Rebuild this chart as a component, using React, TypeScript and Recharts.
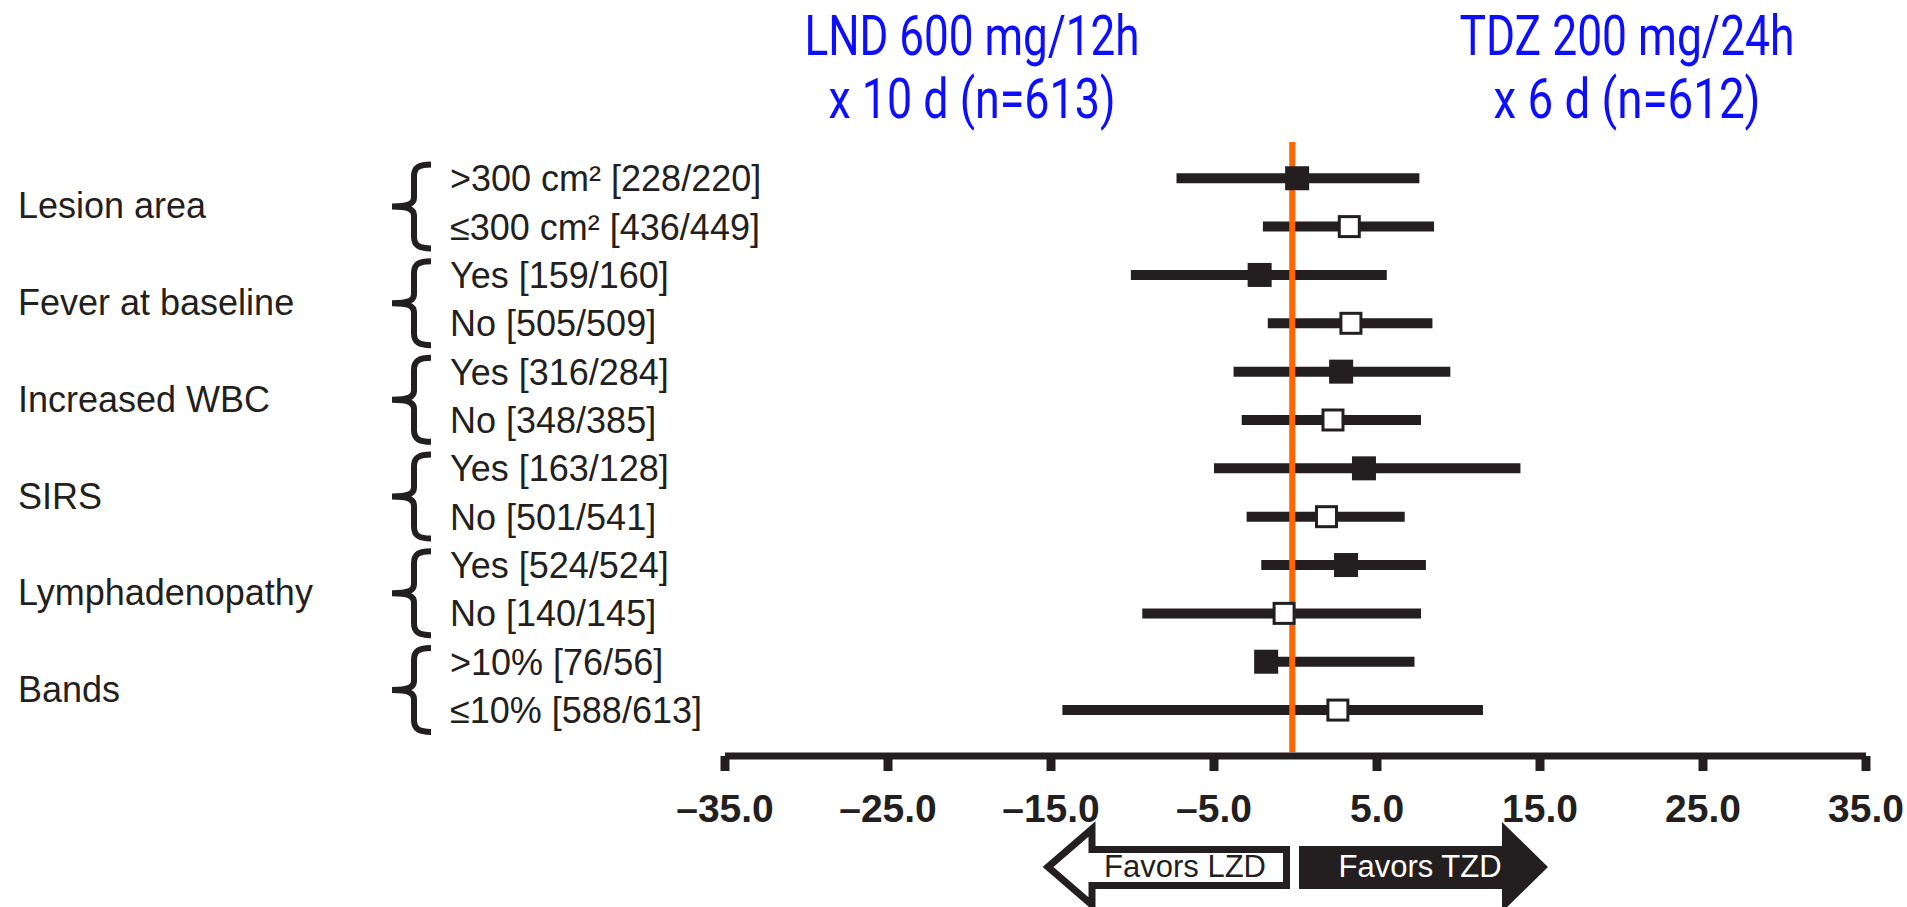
import React from 'react';
import { ScatterChart, Scatter, XAxis, YAxis, ReferenceLine } from 'recharts';

// subgroup data (difference, %)
const groupLabels = ['Lesion area', 'Fever at baseline', 'Increased WBC', 'SIRS', 'Lymphadenopathy', 'Bands'];
const subgroupLabels = [
  '>300 cm² [228/220]',
  '≤300 cm² [436/449]',
  'Yes [159/160]',
  'No [505/509]',
  'Yes [316/284]',
  'No [348/385]',
  'Yes [163/128]',
  'No [501/541]',
  'Yes [524/524]',
  'No [140/145]',
  '>10% [76/56]',
  '≤10% [588/613]',
];
const estimates = [0.1, 3.3, -2.2, 3.4, 2.8, 2.3, 4.2, 1.9, 3.1, -0.7, -1.8, 2.6];
const lowerCI = [-7.3, -2.0, -10.1, -1.7, -3.8, -3.3, -5.0, -3.0, -2.1, -9.4, -2.0, -14.3];
const upperCI = [7.6, 8.5, 5.6, 8.4, 9.5, 7.7, 13.8, 6.7, 8.0, 7.7, 7.3, 11.5];
const xTicks = [-35, -25, -15, -5, 5, 15, 25, 35];
const nullLine = -0.2;

const INK = '#231f20';
const ORANGE = '#ff6600';
const BLUE = '#0d0dff';
const FONT = '"Liberation Sans", Arial, Helvetica, sans-serif';

const W = 1907;
const H = 907;
const PLOT_TOP = 142;
const PLOT_BOTTOM = 756;
const PLOT_LEFT = 725;
const PLOT_RIGHT = 1866;
const Y_AXIS_W = 60;
const X_AXIS_H = 60;
const Y_DOMAIN: [number, number] = [-0.75, 11.95];
const ROW_GAP = (PLOT_BOTTOM - PLOT_TOP) / (Y_DOMAIN[1] - Y_DOMAIN[0]);

const rows = subgroupLabels.map((label, i) => ({
  y: i,
  x: estimates[i],
  lo: lowerCI[i],
  hi: upperCI[i],
  filled: i % 2 === 0,
}));
const rowTicks = rows.map(r => r.y);

const fmtTick = (v: number) => (v < 0 ? '–' + Math.abs(v).toFixed(1) : v.toFixed(1));

const bracePath = (mid: number) => {
  const top = mid - 42;
  const bot = mid + 42;
  return `M431,${top} C419,${top} 414,${top + 3} 414,${top + 12} L414,${mid - 9} C414,${mid - 3} 409,${mid} 392,${mid} ` +
    `C409,${mid} 414,${mid + 3} 414,${mid + 9} L414,${bot - 12} C414,${bot - 3} 419,${bot} 431,${bot}`;
};

const RowTick = (props: any) => {
  const { y, payload } = props;
  const i = payload.value;
  const label = subgroupLabels[i];
  if (label === undefined) return null;
  const mid = y + ROW_GAP / 2;
  return (
    <g>
      <text x={450} y={y + 13} fontSize={36} fill={INK} fontFamily={FONT}>{label}</text>
      {i % 2 === 0 && (
        <>
          <path d={bracePath(mid + 4)} fill="none" stroke={INK} strokeWidth={6} />
          <text x={18} y={mid + 16} fontSize={36} fill={INK} fontFamily={FONT}>{groupLabels[i / 2]}</text>
        </>
      )}
    </g>
  );
};

const FilledSquare = (props: any) => (
  <rect x={props.cx - 12} y={props.cy - 12} width={24} height={24} fill={INK} />
);

const OpenSquare = (props: any) => (
  <rect x={props.cx - 10} y={props.cy - 10} width={20} height={20} fill="#fff" stroke={INK} strokeWidth={3} />
);

const Overlay = () => (
  <svg width={W} height={H} style={{ position: 'absolute', left: 0, top: 0, pointerEvents: 'none' }}>
    <g fontFamily="Roboto, sans-serif" fontSize={55} fill={BLUE} textAnchor="middle">
      <text x={972} y={55} textLength={335} lengthAdjust="spacingAndGlyphs">LND 600 mg/12h</text>
      <text x={972} y={118} textLength={287} lengthAdjust="spacingAndGlyphs">x 10 d (n=613)</text>
      <text x={1627} y={55} textLength={335} lengthAdjust="spacingAndGlyphs">TDZ 200 mg/24h</text>
      <text x={1627} y={118} textLength={267} lengthAdjust="spacingAndGlyphs">x 6 d (n=612)</text>
    </g>
    <polygon
      points="1048,867 1092,829 1092,849.5 1286.5,849.5 1286.5,885.5 1092,885.5 1092,905"
      fill="#fff" stroke={INK} strokeWidth={7} strokeLinejoin="miter"
    />
    <polygon points="1299,846 1502,846 1502,822 1548,867 1502,912 1502,889 1299,889" fill={INK} />
    <text x={1185} y={877} textAnchor="middle" fontFamily={FONT} fontSize={31} fill={INK}>Favors LZD</text>
    <text x={1420} y={877} textAnchor="middle" fontFamily={FONT} fontSize={31} fill="#fff">Favors TZD</text>
  </svg>
);

export default function App() {
  return (
    <div style={{ position: 'absolute', left: 0, top: 0, width: W, height: H, background: '#fff' }}>
      <ScatterChart
        width={W}
        height={H}
        margin={{ top: PLOT_TOP, right: W - PLOT_RIGHT, bottom: H - PLOT_BOTTOM - X_AXIS_H, left: PLOT_LEFT - Y_AXIS_W }}
      >
        <XAxis
          type="number"
          dataKey="x"
          domain={[-35, 35]}
          ticks={xTicks}
          interval={0}
          height={X_AXIS_H}
          axisLine={{ stroke: INK, strokeWidth: 7 }}
          tickLine={{ stroke: INK, strokeWidth: 9 }}
          tickSize={15}
          tickMargin={23}
          tick={{ fill: INK, fontSize: 39, fontWeight: 700, fontFamily: FONT }}
          tickFormatter={fmtTick}
        />
        <YAxis
          type="number"
          dataKey="y"
          domain={Y_DOMAIN}
          reversed
          ticks={rowTicks}
          interval={0}
          width={Y_AXIS_W}
          axisLine={false}
          tickLine={false}
          tick={(p: any) => <RowTick {...p} />}
        />
        {rows.map(r => (
          <ReferenceLine
            key={r.y}
            segment={[{ x: r.lo, y: r.y }, { x: r.hi, y: r.y }]}
            stroke={INK}
            strokeWidth={10}
          />
        ))}
        <Scatter data={rows.filter(r => r.filled)} shape={FilledSquare} isAnimationActive={false} />
        <Scatter data={rows.filter(r => !r.filled)} shape={OpenSquare} isAnimationActive={false} />
        <ReferenceLine
          segment={[{ x: nullLine, y: Y_DOMAIN[0] }, { x: nullLine, y: 11.87 }]}
          stroke={ORANGE}
          strokeWidth={6}
        />
      </ScatterChart>
      <Overlay />
    </div>
  );
}
